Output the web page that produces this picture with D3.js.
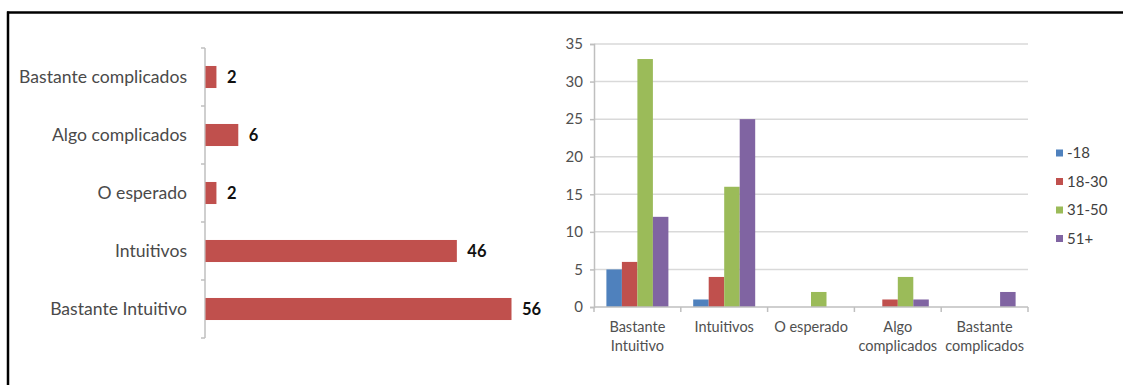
<!DOCTYPE html>
<html>
<head>
<meta charset="utf-8">
<script src="https://cdn.jsdelivr.net/npm/d3@7"></script>
<style>
  html, body { margin: 0; padding: 0; background: #fff; }
  svg { display: block; }
  text { font-family: Lato, "Open Sans", sans-serif; }
</style>
</head>
<body>
<svg id="chart" width="1123" height="385"></svg>
<script>
// Totals per answer (horizontal bar chart)
const totalCategories = ["Bastante complicados", "Algo complicados", "O esperado", "Intuitivos", "Bastante Intuitivo"];
const totalValues = [2, 6, 2, 46, 56];

// Answers by age group (grouped column chart)
const groupCategories = ["Bastante Intuitivo", "Intuitivos", "O esperado", "Algo complicados", "Bastante complicados"];
const groupLabels = [["Bastante", "Intuitivo"], ["Intuitivos"], ["O esperado"], ["Algo", "complicados"], ["Bastante", "complicados"]];
const ageGroups = ["-18", "18-30", "31-50", "51+"];
const ageUnder18 = [5, 1, 0, 0, 0];
const age18to30 = [6, 4, 0, 1, 0];
const age31to50 = [33, 16, 2, 4, 0];
const age51plus = [12, 25, 0, 1, 2];
const yTicks = [0, 5, 10, 15, 20, 25, 30, 35];

const ageColors = ["#4f81bd", "#c0504d", "#9bbb59", "#8064a2"];
const seriesValues = [ageUnder18, age18to30, age31to50, age51plus];

const svg = d3.select("#chart");

// Frame: top and left rules
svg.append("line").attr("x1", 7).attr("x2", 1123).attr("y1", 12.5).attr("y2", 12.5)
  .attr("stroke", "#000").attr("stroke-width", 2.5);
svg.append("line").attr("x1", 8).attr("x2", 8).attr("y1", 11.5).attr("y2", 385)
  .attr("stroke", "#000").attr("stroke-width", 2.5);

// ---------- Left: horizontal bars ----------
const left = svg.append("g");
const yL = d3.scaleBand().domain(totalCategories).range([48, 338])
  .paddingInner(0.62).paddingOuter(0.31);
const xL = d3.scaleLinear().domain([0, 56]).range([205, 511]);

const stepL = yL.step();
// axis line with ticks at category boundaries
left.append("line").attr("x1", xL(0)).attr("x2", xL(0)).attr("y1", 48).attr("y2", 338)
  .attr("stroke", "#bfbfbf").attr("stroke-width", 1.5);
d3.range(totalCategories.length + 1).forEach(i => {
  const yy = 48 + i * stepL;
  left.append("line").attr("x1", xL(0) - 4).attr("x2", xL(0)).attr("y1", yy).attr("y2", yy)
    .attr("stroke", "#bfbfbf").attr("stroke-width", 1.5);
});

left.selectAll("rect.bar").data(totalCategories).join("rect")
  .attr("class", "bar")
  .attr("x", xL(0) + 0.5)
  .attr("y", d => yL(d))
  .attr("width", (d, i) => xL(totalValues[i]) - xL(0))
  .attr("height", yL.bandwidth())
  .attr("fill", "#c0504d");

left.selectAll("text.cat").data(totalCategories).join("text")
  .attr("class", "cat")
  .attr("x", xL(0) - 18)
  .attr("y", d => yL(d) + yL.bandwidth() / 2)
  .attr("dy", "0.35em")
  .attr("text-anchor", "end")
  .attr("font-size", 17.6)
  .attr("fill", "#4a4a4a")
  .text(d => d);

left.selectAll("text.val").data(totalCategories).join("text")
  .attr("class", "val")
  .attr("x", (d, i) => xL(totalValues[i]) + 11)
  .attr("y", d => yL(d) + yL.bandwidth() / 2)
  .attr("dy", "0.38em")
  .attr("font-size", 16.5)
  .attr("font-weight", "bold")
  .attr("fill", "#111")
  .text((d, i) => totalValues[i]);

// ---------- Right: grouped columns ----------
const right = svg.append("g");
const x0 = d3.scaleBand().domain(groupCategories).range([594, 1028]).padding(0);
const x1 = d3.scaleBand().domain(ageGroups).range([0, x0.bandwidth()]).paddingInner(0).paddingOuter(0.8);
const yR = d3.scaleLinear().domain([0, 35]).range([307, 44]);

// gridlines
right.selectAll("line.grid").data(yTicks.filter(t => t > 0)).join("line")
  .attr("class", "grid")
  .attr("x1", 594).attr("x2", 1028)
  .attr("y1", d => yR(d)).attr("y2", d => yR(d))
  .attr("stroke", "#d9d9d9").attr("stroke-width", 1.5);

// y axis
const yAxis = right.append("g").attr("transform", "translate(594,0)")
  .call(d3.axisLeft(yR).tickValues(yTicks).tickSize(4).tickPadding(7));
yAxis.select(".domain").attr("stroke", "#bfbfbf").attr("stroke-width", 1.5);
yAxis.selectAll(".tick line").attr("stroke", "#bfbfbf").attr("stroke-width", 1.5);
yAxis.selectAll(".tick text").attr("font-size", 15).attr("fill", "#505050")
  .attr("font-family", "Lato, sans-serif");

// bars
groupCategories.forEach((cat, ci) => {
  right.selectAll(null).data(ageGroups).join("rect")
    .attr("x", g => x0(cat) + x1(g))
    .attr("y", (g, si) => yR(seriesValues[si][ci]))
    .attr("width", x1.bandwidth())
    .attr("height", (g, si) => yR(0) - yR(seriesValues[si][ci]))
    .attr("fill", (g, si) => ageColors[si]);
});

// x axis with ticks at category boundaries
right.append("line").attr("x1", 594).attr("x2", 1028).attr("y1", yR(0)).attr("y2", yR(0))
  .attr("stroke", "#bfbfbf").attr("stroke-width", 1.5);
d3.range(groupCategories.length + 1).forEach(i => {
  const xx = 594 + i * x0.step();
  right.append("line").attr("x1", xx).attr("x2", xx).attr("y1", yR(0)).attr("y2", yR(0) + 5)
    .attr("stroke", "#bfbfbf").attr("stroke-width", 1.5);
});

groupCategories.forEach((cat, ci) => {
  const t = right.append("text")
    .attr("x", x0(cat) + x0.bandwidth() / 2)
    .attr("y", 327)
    .attr("text-anchor", "middle")
    .attr("font-size", 14.5)
    .attr("fill", "#505050");
  groupLabels[ci].forEach((line, li) => {
    t.append("tspan").attr("x", x0(cat) + x0.bandwidth() / 2).attr("dy", li === 0 ? "0.35em" : 19).text(line);
  });
});

// legend
const legend = right.append("g");
ageGroups.forEach((g, i) => {
  const yy = 153 + i * 28.5;
  legend.append("rect").attr("x", 1056).attr("y", yy - 3.5).attr("width", 7).attr("height", 7)
    .attr("fill", ageColors[i]);
  legend.append("text").attr("x", 1067).attr("y", yy).attr("dy", "0.35em")
    .attr("font-size", 15).attr("fill", "#404040").text(g);
});
</script>
</body>
</html>
